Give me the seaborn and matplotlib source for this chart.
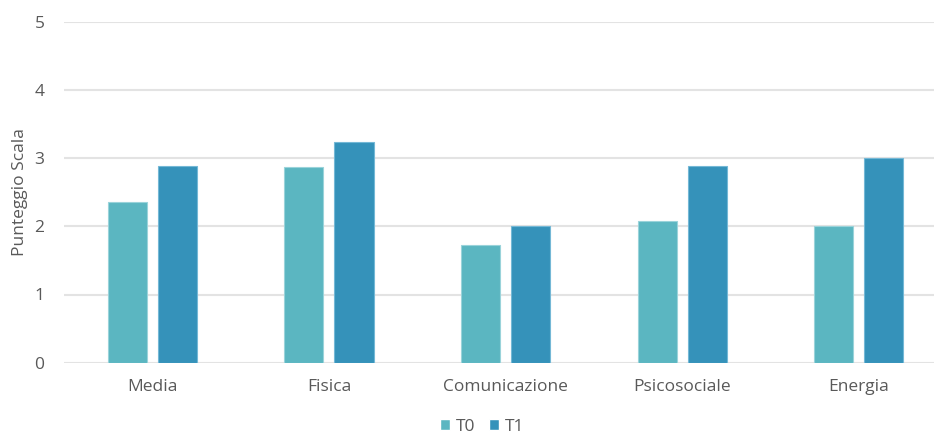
import matplotlib
matplotlib.use("Agg")
import matplotlib.pyplot as plt
import seaborn as sns
import pandas as pd

categories = ["Media", "Fisica", "Comunicazione", "Psicosociale", "Energia"]
t0_values = [2.36, 2.87, 1.72, 2.08, 2.00]
t1_values = [2.89, 3.23, 2.00, 2.89, 3.00]
series = ["T0", "T1"]
y_ticks = [0, 1, 2, 3, 4, 5]

df = pd.DataFrame({
    "Categoria": categories * 2,
    "Serie": [series[0]] * len(categories) + [series[1]] * len(categories),
    "Punteggio": t0_values + t1_values,
})

sns.set_theme(style="white")
plt.rcParams["font.family"] = ["Open Sans", "DejaVu Sans"]

text_color = "#595959"
colors = {"T0": "#5BB6C1", "T1": "#3592BA"}
edges = {"T0": "#9ad3da", "T1": "#74b8d6"}

fig = plt.figure(figsize=(9.34, 4.34), dpi=100)
ax = fig.add_axes([64 / 934, (434 - 362.7) / 434, 870 / 934, (362.7 - 21.7) / 434])

sns.barplot(data=df, x="Categoria", y="Punteggio", hue="Serie",
            palette=colors, saturation=1, width=0.567, gap=0.22,
            ax=ax, legend=True)

for container, name in zip(ax.containers, series):
    for patch in container:
        patch.set_edgecolor(edges[name])
        patch.set_linewidth(0.8)

ax.set_ylim(0, 5)
ax.set_xlim(-0.5, 4.425)
ax.set_yticks(y_ticks)
ax.yaxis.grid(True, color="#e3e3e3", linewidth=1.5)
ax.set_axisbelow(True)
for s in ax.spines.values():
    s.set_visible(False)

ax.tick_params(axis="both", length=0, colors=text_color, labelsize=12.5)
ax.tick_params(axis="x", pad=12)
ax.tick_params(axis="y", pad=14)
ax.set_xlabel("")
ax.set_ylabel("Punteggio Scala", color=text_color, fontsize=12.5)
ax.yaxis.set_label_coords(-36 / 870, 0.5)

handles, labels = ax.get_legend_handles_labels()
ax.legend(handles, labels, loc="center", bbox_to_anchor=(482 / 934, 7 / 434),
          bbox_transform=fig.transFigure, ncol=2, frameon=False,
          handlelength=0.6, handleheight=0.6, handletextpad=0.3,
          columnspacing=0.8, fontsize=12.5, labelcolor=text_color)

fig.savefig("out.png", dpi=100)
